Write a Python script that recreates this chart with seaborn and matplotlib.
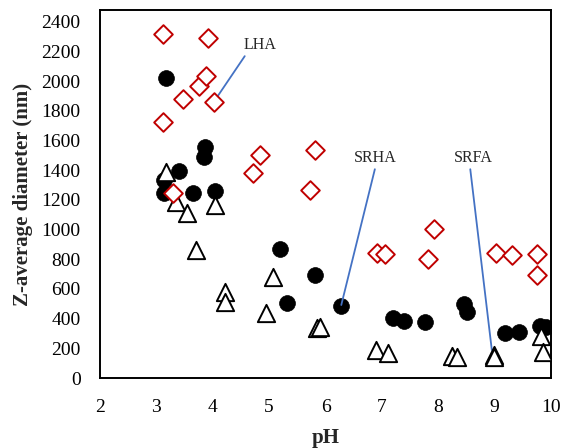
import matplotlib
matplotlib.use("Agg")
import matplotlib.pyplot as plt
import seaborn as sns
import pandas as pd

# Data
LHA_pH = [3.12, 3.11, 3.30, 3.47, 3.75, 3.88, 3.91, 4.03, 4.71, 4.83, 5.73, 5.82, 6.91, 7.06, 7.82, 7.93, 9.02, 9.31, 9.75, 9.76]
LHA_d = [2317, 1726, 1249, 1879, 1968, 2036, 2294, 1863, 1384, 1501, 1267, 1537, 845, 834, 800, 1002, 840, 829, 694, 834]

SRHA_pH = [3.17, 3.13, 3.14, 3.41, 3.65, 3.85, 3.87, 4.04, 5.19, 5.31, 5.82, 6.28, 7.20, 7.39, 7.77, 8.46, 8.51, 9.18, 9.44, 9.81, 9.91]
SRHA_d = [2020, 1335, 1249, 1395, 1245, 1492, 1559, 1263, 870, 504, 694, 487, 402, 384, 380, 497, 443, 301, 308, 353, 346]

SRFA_pH = [3.17, 3.35, 3.54, 3.71, 4.04, 4.22, 4.22, 4.95, 5.07, 5.85, 5.91, 6.89, 7.10, 8.25, 8.34, 8.99, 8.99, 9.83, 9.85]
SRFA_d = [1385, 1189, 1110, 863, 1166, 582, 514, 436, 683, 335, 346, 189, 171, 148, 144, 155, 140, 283, 177]

x_ticks = [2, 3, 4, 5, 6, 7, 8, 9, 10]
y_ticks = list(range(0, 2401, 200))

sns.set_theme(style="white")
plt.rcParams['font.family'] = ['Liberation Serif', 'DejaVu Serif']

fig = plt.figure(figsize=(5.65, 4.48), dpi=100)
ax = fig.add_axes([100/565, 1-378/448, 451/565, 368/448])

df_srha = pd.DataFrame({"pH": SRHA_pH, "d": SRHA_d})
df_srfa = pd.DataFrame({"pH": SRFA_pH, "d": SRFA_d})
df_lha = pd.DataFrame({"pH": LHA_pH, "d": LHA_d})

sns.scatterplot(data=df_srha, x="pH", y="d", ax=ax, marker="o", s=130,
                color="black", edgecolor="black", linewidth=0.5, zorder=3)
sns.scatterplot(data=df_srfa, x="pH", y="d", ax=ax, marker="^", s=155,
                facecolor="white", edgecolor="black", linewidth=1.4, zorder=4)
sns.scatterplot(data=df_lha, x="pH", y="d", ax=ax, marker="D", s=90,
                facecolor="white", edgecolor="#C00000", linewidth=1.4, zorder=5)

ax.set_xlim(2, 10)
ax.set_ylim(0, 2480)
ax.set_xticks(x_ticks)
ax.set_yticks(y_ticks)
ax.tick_params(axis="both", direction="in", length=5, width=1.2, colors="black",
               labelsize=14)
ax.tick_params(axis="x", pad=15)
ax.tick_params(axis="y", pad=14)
for sp in ax.spines.values():
    sp.set_color("black")
    sp.set_linewidth(1.4)
    sp.set_visible(True)

ax.set_xlabel("pH", fontsize=15, fontweight="bold", labelpad=9)
ax.set_ylabel("Z-average diameter (nm)", fontsize=15, fontweight="bold", labelpad=6)

line_kw = dict(arrowstyle="-", color="#4472C4", lw=1.3, shrinkA=0, shrinkB=0)
ax.annotate("LHA", xy=(4.03, 1867), xytext=(4.84, 2245), fontsize=11.5,
            ha="center", va="center", arrowprops=dict(relpos=(0.1, 0.0), **line_kw))
ax.annotate("SRHA", xy=(6.28, 492), xytext=(6.89, 1483), fontsize=11.5,
            ha="center", va="center", arrowprops=dict(relpos=(0.5, 0.0), **line_kw))
ax.annotate("SRFA", xy=(8.95, 189), xytext=(8.63, 1483), fontsize=11.5,
            ha="center", va="center", arrowprops=dict(relpos=(0.4, 0.0), **line_kw))

fig.savefig("out.png", dpi=100)
